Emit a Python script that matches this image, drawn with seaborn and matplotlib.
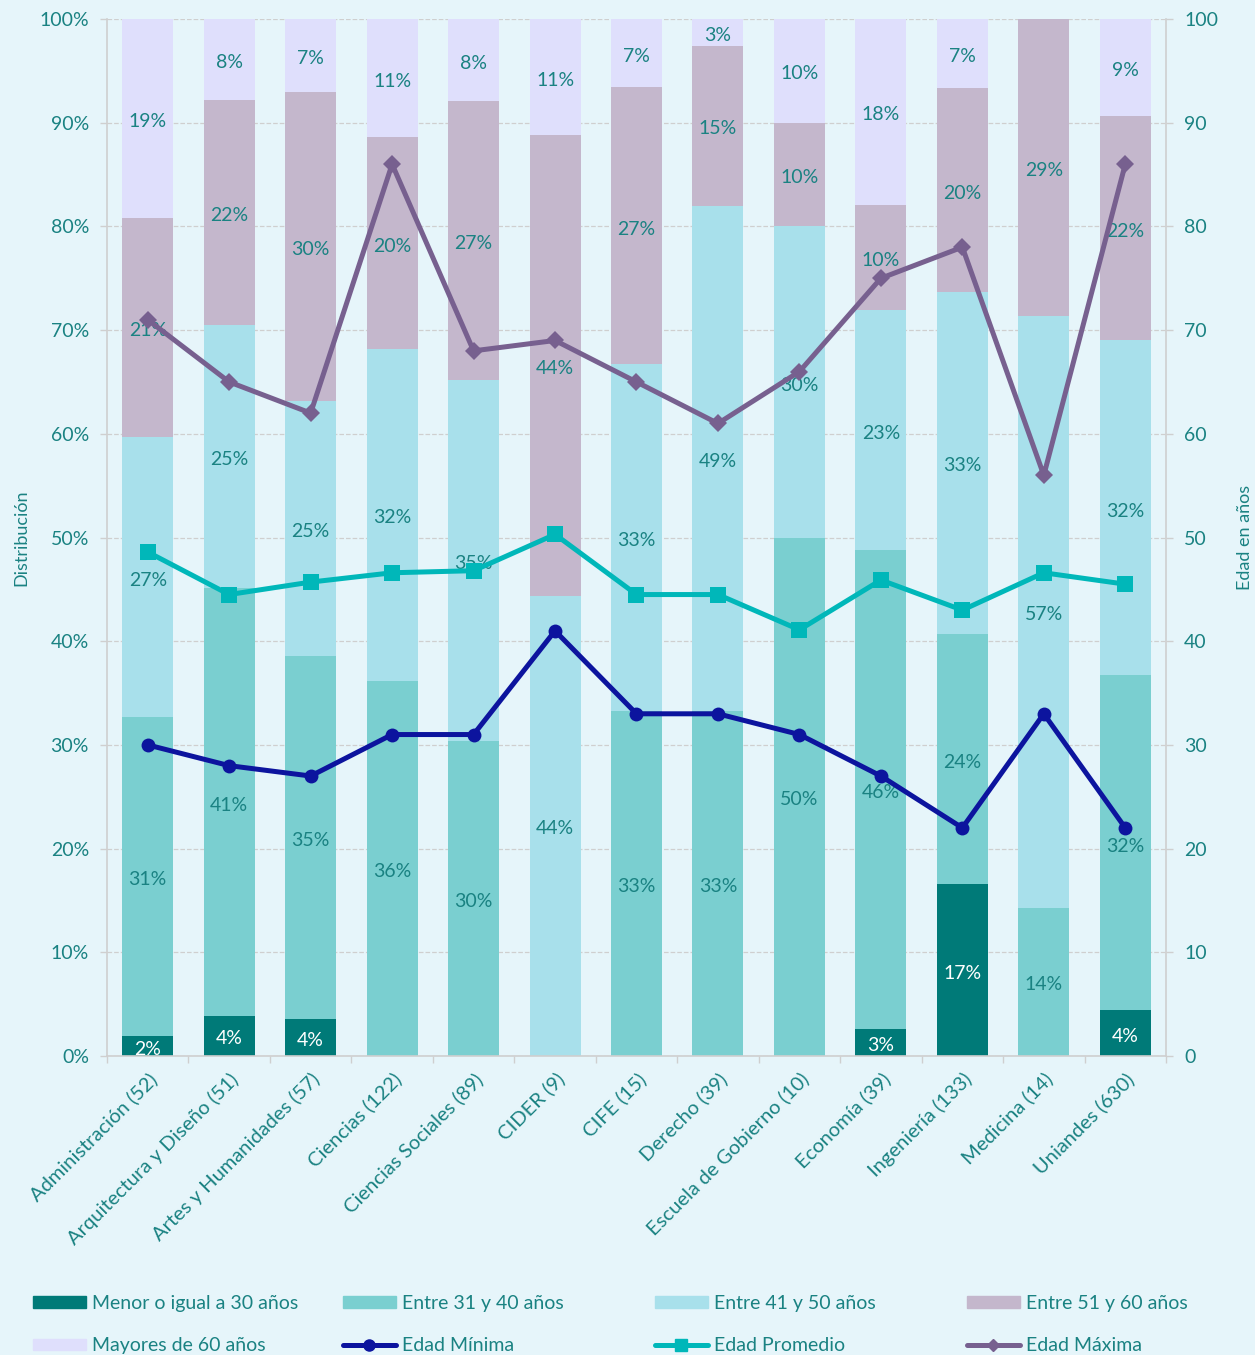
import numpy as np
import pandas as pd
import matplotlib
matplotlib.use("Agg")
import matplotlib.pyplot as plt
import seaborn as sns
from matplotlib.patches import Patch
from matplotlib.lines import Line2D

# ---------------- data ----------------
categories = ["Administración (52)", "Arquitectura y Diseño (51)", "Artes y Humanidades (57)",
              "Ciencias (122)", "Ciencias Sociales (89)", "CIDER (9)", "CIFE (15)",
              "Derecho (39)", "Escuela de Gobierno (10)", "Economía (39)",
              "Ingeniería (133)", "Medicina (14)", "Uniandes (630)"]
menor_30 = [1.9, 3.9, 3.6, 0, 0, 0, 0, 0, 0, 2.6, 16.6, 0, 4.4]
entre_31_40 = [30.8, 41.2, 35.0, 36.2, 30.4, 0, 33.3, 33.3, 50.0, 46.2, 24.1, 14.3, 32.3]
entre_41_50 = [27.0, 25.4, 24.6, 32.0, 34.8, 44.4, 33.4, 48.7, 30.0, 23.1, 33.0, 57.1, 32.3]
entre_51_60 = [21.1, 21.7, 29.8, 20.4, 26.9, 44.4, 26.7, 15.4, 10.0, 10.2, 19.6, 28.6, 21.6]
mayores_60 = [19.2, 7.8, 7.0, 11.4, 7.9, 11.2, 6.6, 2.6, 10.0, 17.9, 6.7, 0, 9.4]
edad_minima = [30, 28, 27, 31, 31, 41, 33, 33, 31, 27, 22, 33, 22]
edad_promedio = [48.6, 44.5, 45.7, 46.6, 46.8, 50.3, 44.5, 44.5, 41.1, 45.9, 43.0, 46.6, 45.5]
edad_maxima = [71, 65, 62, 86, 68, 69, 65, 61, 66, 75, 78, 56, 86]
seg_labels = ["Menor o igual a 30 años", "Entre 31 y 40 años", "Entre 41 y 50 años",
              "Entre 51 y 60 años", "Mayores de 60 años"]
line_labels = ["Edad Mínima", "Edad Promedio", "Edad Máxima"]
y_ticks = list(range(0, 101, 10))

# ---------------- style ----------------
BG = "#e6f5fa"
TEXT = "#1a8282"
GRID = "#cfcfcf"
seg_colors = ["#007a78", "#7acfd0", "#a8e0eb", "#c4b7cc", "#dfdffc"]
line_colors = ["#0c149e", "#00b7b9", "#77608f"]

sns.set_theme(style="white")
plt.rcParams['font.family'] = ['Lato', 'DejaVu Sans']

fig = plt.figure(figsize=(12.55, 13.55), dpi=100, facecolor=BG)
ax = fig.add_axes([0.08526, 0.22066, 0.84382, 0.76531])
ax.set_facecolor(BG)

segs = np.array([menor_30, entre_31_40, entre_41_50, entre_51_60, mayores_60])
cum = np.cumsum(segs, axis=0)

for i in reversed(range(5)):
    sns.barplot(x=categories, y=cum[i], color=seg_colors[i], saturation=1,
                width=0.626, ax=ax, linewidth=0)

# value labels
for i in range(5):
    for j in range(len(categories)):
        v = segs[i][j]
        if v > 0:
            ax.text(j, cum[i][j] - v / 2 - 0.3, f"{v:.0f}%", ha="center", va="center",
                    fontsize=14, color="white" if i == 0 else TEXT, zorder=5)

ax.set_ylim(0, 100)
ax.set_yticks(y_ticks)
ax.set_yticklabels([f"{t}%" for t in y_ticks])
ax.yaxis.grid(True, linestyle="--", color=GRID, linewidth=0.9)
ax.set_axisbelow(True)
ax.tick_params(axis="y", colors=GRID, labelcolor=TEXT, labelsize=14, length=5, width=1, pad=8, left=True)
ax.set_ylabel("Distribución", color=TEXT, fontsize=13, labelpad=7)
ax.set_xlabel("")

ax.set_xticks(range(len(categories)))
ax.set_xticklabels(categories, rotation=45, ha="right", rotation_mode="anchor",
                   fontsize=14.5, color=TEXT)
ax.tick_params(axis="x", which="major", length=0, pad=10)
ax.set_xticks(np.arange(-0.5, len(categories), 1), minor=True)
ax.tick_params(axis="x", which="minor", length=5, color=GRID, width=1, bottom=True)

for s in ["top", "right"]:
    ax.spines[s].set_visible(False)
for s in ["left", "bottom"]:
    ax.spines[s].set_color(GRID)
    ax.spines[s].set_linewidth(1.2)

# secondary axis with age lines
ax2 = ax.twinx()
xs = np.arange(len(categories))
sns.lineplot(x=xs, y=edad_minima, ax=ax2, color=line_colors[0], linewidth=3.6,
             marker="o", markersize=10, markeredgewidth=0, legend=False)
sns.lineplot(x=xs, y=edad_promedio, ax=ax2, color=line_colors[1], linewidth=3.6,
             marker="s", markersize=11, markeredgewidth=0, legend=False)
sns.lineplot(x=xs, y=edad_maxima, ax=ax2, color=line_colors[2], linewidth=3.6,
             marker="D", markersize=9, markeredgewidth=0, legend=False)
ax2.set_ylim(0, 100)
ax2.set_yticks(y_ticks)
ax2.set_yticklabels([str(t) for t in y_ticks])
ax2.tick_params(axis="y", colors=GRID, labelcolor=TEXT, labelsize=14, length=5, width=1, pad=8, right=True)
ax2.set_ylabel("Edad en años", color=TEXT, fontsize=13, labelpad=14)
for s in ["top", "left", "bottom"]:
    ax2.spines[s].set_visible(False)
ax2.spines["right"].set_color(GRID)
ax2.spines["right"].set_linewidth(1.2)
ax2.grid(False)
ax.set_xlim(-0.5, len(categories) - 0.5)

# legend: 4 columns, 2 rows
handles = [Patch(color=c) for c in seg_colors]
line_handles = [Line2D([0], [0], color=line_colors[0], linewidth=3.6, marker="o", markersize=8),
                Line2D([0], [0], color=line_colors[1], linewidth=3.6, marker="s", markersize=9),
                Line2D([0], [0], color=line_colors[2], linewidth=3.6, marker="D", markersize=6)]
columns = [
    ([handles[0], handles[4]], [seg_labels[0], seg_labels[4]]),
    ([handles[1], line_handles[0]], [seg_labels[1], line_labels[0]]),
    ([handles[2], line_handles[1]], [seg_labels[2], line_labels[1]]),
    ([handles[3], line_handles[2]], [seg_labels[3], line_labels[2]]),
]
col_x = [33, 343, 655, 967]
for (h, l), x in zip(columns, col_x):
    fig.legend(h, l, loc="upper left", bbox_to_anchor=(x / 1255, 1 - 1295 / 1355),
               frameon=False, fontsize=14, labelcolor=TEXT, handlelength=2.7,
               handleheight=0.55, handletextpad=0.35, labelspacing=1.3, borderpad=0,
               borderaxespad=0)

fig.savefig("out.png", dpi=100, facecolor=BG)
